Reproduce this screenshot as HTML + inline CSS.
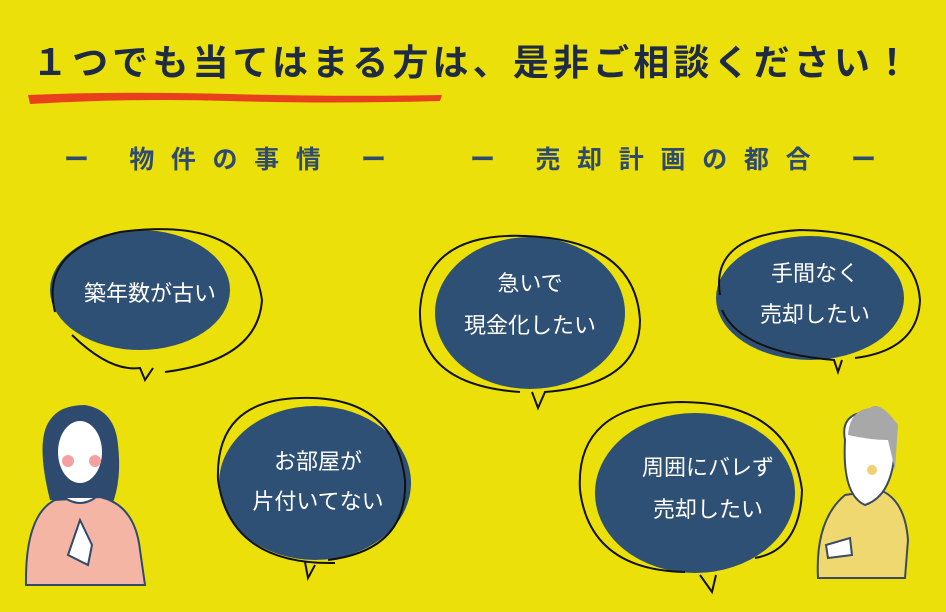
<!DOCTYPE html>
<html><head><meta charset="utf-8"><style>
body{margin:0;width:946px;height:612px;overflow:hidden;background:#ebe00a;font-family:"Liberation Sans","Noto Sans CJK JP",sans-serif}
</style></head><body>
<svg width="946" height="612" viewBox="0 0 946 612" xmlns="http://www.w3.org/2000/svg" style="position:absolute;left:0;top:0">
<rect width="946" height="612" fill="#ebe00a"/>
<text x="32" y="75" font-size="36" font-weight="bold" fill="#1f2a44" font-family="Liberation Sans,Noto Sans CJK JP,sans-serif" textLength="878" lengthAdjust="spacing">１つでも当てはまる方は、是非ご相談ください！</text>
<path d="M28 95 Q120 91 230 94 T442 95 L440 101 Q330 104 230 101 T30 104 Z" fill="#e8401c"/>
<g font-size="25" fill="#2f4a6f" font-weight="bold" font-family="Liberation Sans,Noto Sans CJK JP,sans-serif">
<text x="64" y="168" textLength="322" lengthAdjust="spacing">ー 物件の事情 ー</text>
<text x="470" y="168" textLength="406" lengthAdjust="spacing">ー 売却計画の都合 ー</text>
</g>
<g fill="#2f5075">
<ellipse cx="140" cy="290" rx="90" ry="60"/>
<ellipse cx="530" cy="313" rx="95" ry="76"/>
<ellipse cx="810" cy="298" rx="94" ry="62"/>
<ellipse cx="315" cy="483" rx="96" ry="77"/>
<ellipse cx="695" cy="493" rx="100" ry="80"/>
</g>
<g fill="none" stroke="#111" stroke-width="2">
<path d="M55 312 Q40 250 120 232 Q250 215 262 300 Q258 360 165 372"/>
<path d="M72 335 Q110 372 140 368 L145 380 L153 368"/>
<path d="M520 392 Q418 385 420 310 Q425 232 525 236 Q635 240 640 320 Q640 385 545 392 L538 408 L532 392"/>
<path d="M720 295 Q710 235 800 230 Q915 232 920 300 Q918 350 855 358 M842 360 L838 372 L834 360 Q740 352 722 310"/>
<path d="M335 563 Q230 565 218 480 Q215 400 300 398 Q395 395 405 480 Q408 550 328 560 M305 562 L308 578 L315 565"/>
<path d="M685 572 Q590 570 580 490 Q575 405 680 402 Q790 402 802 490 Q800 550 755 558 M700 575 L712 592 L716 575"/>
</g>
<g font-size="22" fill="#fff" text-anchor="middle" font-family="Liberation Sans,Noto Sans CJK JP,sans-serif">
<text x="150" y="301">築年数が古い</text>
<text x="530" y="291">急いで</text>
<text x="530" y="333">現金化したい</text>
<text x="815" y="281">手間なく</text>
<text x="815" y="322">売却したい</text>
<text x="318" y="469">お部屋が</text>
<text x="318" y="509">片付いてない</text>
<text x="708" y="475">周囲にバレず</text>
<text x="708" y="517">売却したい</text>
</g>
<path d="M50 500 Q35 440 50 420 Q60 405 85 405 Q115 410 118 445 Q122 480 112 505 Z" fill="#2f4a6f"/>
<ellipse cx="80" cy="452" rx="22" ry="31" fill="#fff"/>
<path d="M57 445 Q60 418 82 418 Q100 420 104 445 L104 425 Q92 408 78 410 Q58 415 57 445Z" fill="#2f4a6f"/>
<circle cx="68" cy="461" r="6" fill="#f4a0a0"/><circle cx="95" cy="461" r="6" fill="#f4a0a0"/>
<path d="M26 585 Q25 515 55 500 L100 497 Q135 505 140 550 L145 585 Z" fill="#f5b5a5" stroke="#2f4a6f" stroke-width="2"/>
<path d="M65 498 Q80 508 95 498" fill="#fff" stroke="#2f4a6f" stroke-width="2"/>
<path d="M68 555 L80 520 L92 545 L88 565Z" fill="#fff" stroke="#2f4a6f" stroke-width="2"/>
<path d="M818 578 Q815 520 845 495 L880 490 Q905 500 908 540 L905 578 Z" fill="#f0d870" stroke="#3b4a60" stroke-width="2"/>
<path d="M845 440 Q840 415 865 412 Q895 412 895 440 Q895 495 865 505 Q842 495 845 440Z" fill="#fff" stroke="#3b4a60" stroke-width="2"/>
<path d="M848 435 Q850 410 870 408 Q880 400 898 425 L895 470 L888 440 Q870 440 848 435Z" fill="#a8a8a8"/>
<circle cx="872" cy="470" r="5" fill="#f0d070"/>
<path d="M826 545 L850 538 L852 555 L828 558Z" fill="#fff" stroke="#3b4a60" stroke-width="2"/>
</svg>
</body></html>
